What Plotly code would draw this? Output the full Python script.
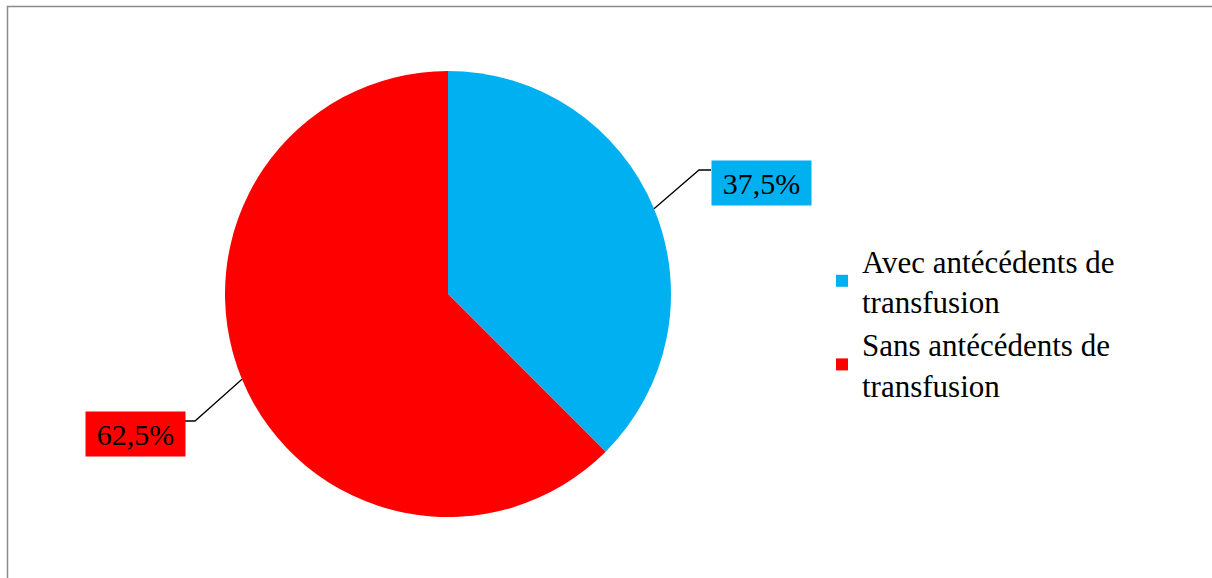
import math
import plotly.graph_objects as go

# ---- data ----
categories = ["Avec antécédents de<br>transfusion", "Sans antécédents de<br>transfusion"]
values = [37.5, 62.5]
value_labels = ["37,5%", "62,5%"]
colors = ["#00B0F0", "#FF0000"]

# ---- layout constants (pixels) ----
W, H = 1212, 578
CX, CY, R = 448, 294, 223
FONT = "Liberation Serif, serif"

def px(x):
    return x / W

def py(y):
    return 1 - y / H

fig = go.Figure()
fig.add_trace(go.Pie(
    labels=categories,
    values=values,
    marker=dict(colors=colors, line=dict(width=0)),
    sort=False,
    direction="clockwise",
    rotation=0,
    textinfo="none",
    hoverinfo="label+percent",
    domain=dict(x=[px(CX - R), px(CX + R)], y=[py(CY + R), py(CY - R)]),
))

label_boxes = [
    dict(left=711, top=160, elbow=(699, 170), end=(711, 170)),
    dict(left=85, top=411, elbow=(195, 421), end=(184, 421)),
]
BOX_W, BOX_H = 99, 44

shapes = []
annotations = []
total = sum(values)
cum = 0.0
for v, lab, col, box in zip(values, value_labels, colors, label_boxes):
    mid = (cum + v / 2) / total * 2 * math.pi
    cum += v
    sx = CX + R * math.sin(mid)
    sy = CY - R * math.cos(mid)
    ex, ey = box["elbow"]
    tx, ty = box["end"]
    shapes.append(dict(
        type="path", xref="paper", yref="paper",
        path=f"M {px(sx)},{py(sy)} L {px(ex)},{py(ey)} L {px(tx)},{py(ty)}",
        line=dict(color="#000000", width=1.3),
    ))
    annotations.append(dict(
        xref="paper", yref="paper",
        x=px(box["left"]), y=py(box["top"]),
        xanchor="left", yanchor="top",
        text=lab, showarrow=False,
        font=dict(family=FONT, size=30, color="#000000"),
        bgcolor=col, borderpad=0,
        width=BOX_W, height=BOX_H, align="center", valign="middle",
    ))

shapes.append(dict(
    type="rect", xref="paper", yref="paper",
    x0=px(7.5), x1=1.02, y0=-0.02, y1=py(6.5),
    line=dict(color="#8a8a8a", width=1.5),
))

fig.update_layout(
    width=W, height=H,
    margin=dict(l=0, r=0, t=0, b=0),
    paper_bgcolor="white",
    plot_bgcolor="white",
    showlegend=True,
    legend=dict(
        x=px(822), y=py(234), xanchor="left", yanchor="top",
        font=dict(family=FONT, size=31, color="#000000"),
        tracegroupgap=0, itemsizing="constant",
        bgcolor="rgba(0,0,0,0)",
    ),
    shapes=shapes,
    annotations=annotations,
)

fig.write_html("out.html")
